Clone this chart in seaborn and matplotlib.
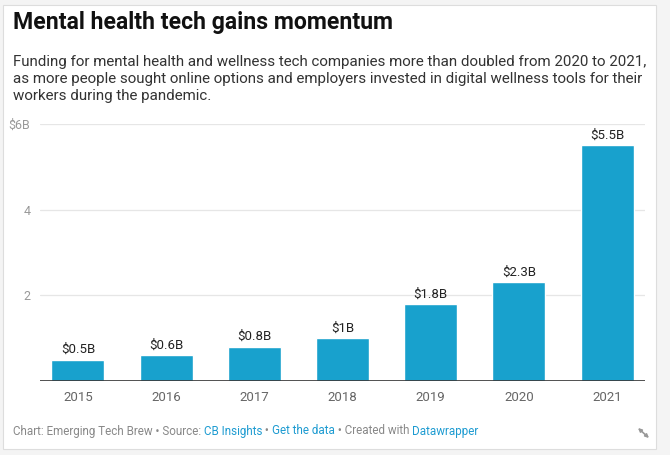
import matplotlib
matplotlib.use("Agg")
import matplotlib.pyplot as plt
import seaborn as sns
import pandas as pd
from matplotlib.patches import Rectangle

years = ["2015", "2016", "2017", "2018", "2019", "2020", "2021"]
funding = [0.5, 0.6, 0.8, 1.0, 1.8, 2.3, 5.5]
value_labels = ["$0.5B", "$0.6B", "$0.8B", "$1B", "$1.8B", "$2.3B", "$5.5B"]
y_ticks = [2, 4, 6]
y_tick_labels = ["2", "4", "$6B"]

title = "Mental health tech gains momentum"
subtitle = ("Funding for mental health and wellness tech companies more than doubled from 2020 to 2021,\n"
            "as more people sought online options and employers invested in digital wellness tools for their\n"
            "workers during the pandemic.")
footer = [("Chart: Emerging Tech Brew \u2022 Source: ", "#888888"),
          ("CB Insights", "#1d9bd1"),
          (" \u2022 ", "#888888"),
          ("Get the data", "#1d9bd1"),
          (" \u2022 Created with ", "#888888"),
          ("Datawrapper", "#1d9bd1")]

df = pd.DataFrame({"year": years, "funding": funding})

sns.set_style("white")
plt.rcParams["font.family"] = ["Roboto", "DejaVu Sans"]

W, H = 670, 455
fig = plt.figure(figsize=(W / 100, H / 100), dpi=100, facecolor="#f4f4f4")

# white card behind everything
card = fig.add_axes([0, 0, 1, 1], zorder=0)
card.set_xlim(0, W)
card.set_ylim(H, 0)
card.axis("off")
card.add_patch(Rectangle((3, 5), 653, 444, facecolor="white", edgecolor="#dddddd", linewidth=0.8))
# resize icon bottom right
card.annotate("", xy=(649, 438), xytext=(638, 428),
              arrowprops=dict(arrowstyle="<|-|>", color="#999999", lw=1.2, mutation_scale=5,
                              shrinkA=0, shrinkB=0))

ax = fig.add_axes([40 / W, 1 - 381 / H, 605 / W, 257 / H], zorder=2)
ax.set_facecolor("none")
bar_color = "#18a1cd"
sns.barplot(data=df, x="year", y="funding", color=bar_color, saturation=1, width=0.6, ax=ax, zorder=3)

ax.set_xlim(-0.43, 6.43)
ax.set_ylim(0, 6)
ax.set_yticks(y_ticks)
ax.set_yticklabels(y_tick_labels)
for t in y_ticks:
    ax.axhline(t, color="#e6e6e6", linewidth=0.9, zorder=1)
ax.axhline(0, color="#333333", linewidth=1.2, zorder=4)
ax.tick_params(axis="y", length=0, pad=7, labelsize=9, labelcolor="#999999")
ax.tick_params(axis="x", length=0, pad=7, labelsize=9.5, labelcolor="#666666")
for s in ax.spines.values():
    s.set_visible(False)
ax.set_xlabel("")
ax.set_ylabel("")

for i, (v, lab) in enumerate(zip(funding, value_labels)):
    ax.annotate(lab, (i, v), xytext=(0, 2.5), textcoords="offset points", ha="center", va="bottom",
                fontsize=9.5, color="#222222", annotation_clip=False)

fig.text(13 / W, 1 - 22 / H, title, fontsize=16.6, fontweight="bold", color="#111111", va="center", ha="left")
fig.text(13 / W, 1 - 55 / H, subtitle, fontsize=10.9, color="#333333", va="top", ha="left", linespacing=1.27)

# footer with coloured link segments
fig.canvas.draw()
renderer = fig.canvas.get_renderer()
x = 13 / W
for txt, col in footer:
    t = fig.text(x, 1 - 431 / H, txt, fontsize=8.35, color=col, va="center", ha="left")
    bb = t.get_window_extent(renderer=renderer)
    x = bb.x1 / W

fig.savefig("out.png", dpi=100, facecolor=fig.get_facecolor())
